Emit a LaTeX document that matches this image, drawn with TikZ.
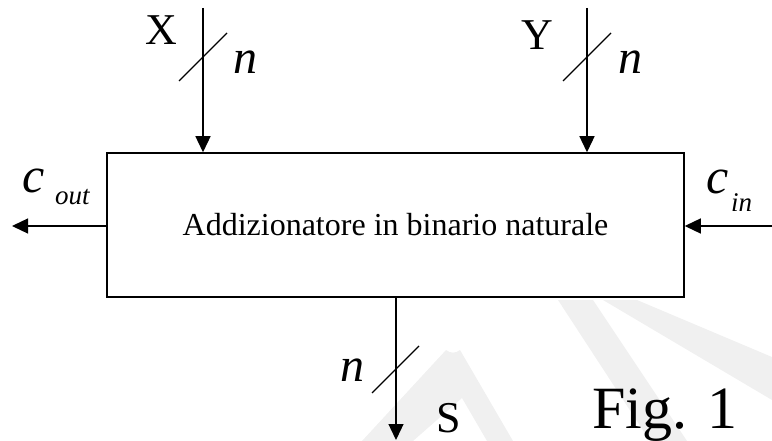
\documentclass[tikz,border=0pt]{standalone}
\usepackage{fontspec}
\setmainfont{Liberation Serif}
\usetikzlibrary{arrows.meta}
\tikzset{
  wire/.style={line width=1.3pt, -{Triangle[length=16pt,width=15pt]}},
  busmark/.style={line width=1.3pt},
  blockbox/.style={draw, line width=1.5pt, fill=white, minimum width=577pt, minimum height=144pt, inner sep=0pt},
  biglabel/.style={anchor=base, inner sep=0pt, font=\fontsize{44}{50}\selectfont},
  itlabel/.style={anchor=base, inner sep=0pt, font=\fontsize{48}{54}\selectfont\itshape},
  clabel/.style={anchor=base west, inner sep=0pt, font=\fontsize{50}{56}\selectfont\itshape},
  sublabel/.style={anchor=base west, inner sep=0pt, font=\fontsize{27}{30}\selectfont\itshape}
}
\begin{document}
\begin{tikzpicture}[x=1pt,y=-1pt]
\useasboundingbox (0,0) rectangle (772,441);
% faint watermark
\fill[black!6] (362,441) -- (446,350) to[out=-40,in=220] (460,350) -- (513,441) -- (487,441) -- (462,398) -- (413,441) -- cycle;
\fill[black!6] (558,300) -- (593,300) -- (687,441) -- (650,441) -- cycle;
\fill[black!6] (603,300) -- (637,300) -- (772,357) -- (772,400) -- cycle;
% block
\node[blockbox, font=\fontsize{32}{38}\selectfont] (box) at (395.5,225) {Addizionatore in binario naturale};
% X input
\coordinate (xs) at (203,8);
\draw[wire] (xs) -- (xs |- box.north);
\coordinate (xa) at (179,81); \coordinate (xb) at (227,33);
\draw[busmark] (xa) -- (xb);
\node[biglabel] (xl) at (161,45) {X};
\node[itlabel] (xn) at (245,74) {n};
% Y input
\coordinate (ys) at (587,8);
\draw[wire] (ys) -- (ys |- box.north);
\coordinate (ya) at (563,81); \coordinate (yb) at (611,33);
\draw[busmark] (ya) -- (yb);
\node[biglabel] (yl) at (537,50) {Y};
\node[itlabel] (yn) at (630,74) {n};
% S output
\coordinate (se) at (396,440);
\draw[wire] (se |- box.south) -- (se);
\coordinate (sa) at (372,393); \coordinate (sb) at (419,346);
\draw[busmark] (sa) -- (sb);
\node[itlabel] (sn) at (352,381) {n};
\node[biglabel] (sl) at (449,432) {S};
% carry out
\coordinate (co) at (12,226);
\draw[wire] (box.west |- co) -- (co);
\node[clabel] (coc) at (22,193) {c};
\node[sublabel] (cos) at (55,205) {out};
% carry in
\coordinate (ci) at (772,226);
\draw[wire] (ci) -- (box.east |- ci);
\node[clabel] (cic) at (706,194) {c};
\node[sublabel] (cis) at (731,212) {in};
% figure label
\node[anchor=base west, inner sep=0pt, font=\fontsize{60}{70}\selectfont] (fig) at (592,428) {Fig. 1};
\end{tikzpicture}
\end{document}
